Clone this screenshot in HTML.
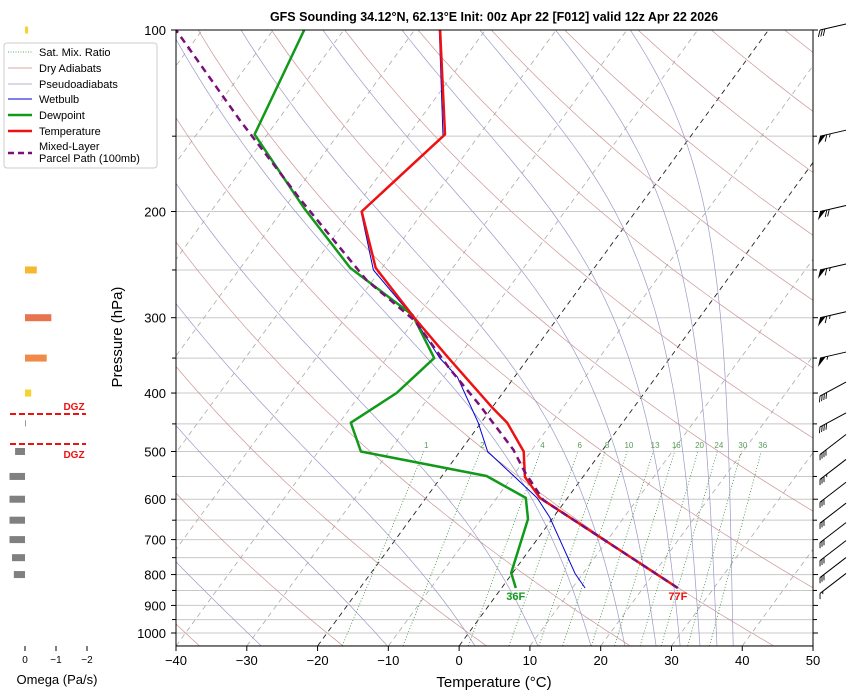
<!DOCTYPE html>
<html><head><meta charset="utf-8"><style>
body{margin:0;background:#fff;}
svg{display:block;font-family:"Liberation Sans","DejaVu Sans",sans-serif;}
</style></head><body>
<svg id="chart" width="852" height="696" viewBox="0 0 852 696" xmlns="http://www.w3.org/2000/svg">
<defs><clipPath id="plotclip"><rect x="176" y="30" width="637" height="616"/></clipPath></defs>
<rect width="852" height="696" fill="#fff"/>
<text x="494" y="21" text-anchor="middle" font-size="12.5" font-weight="bold">GFS Sounding 34.12°N, 62.13°E Init: 00z Apr 22 [F012] valid 12z Apr 22 2026</text>
<g id="bg" clip-path="url(#plotclip)"></g>
<g id="series" clip-path="url(#plotclip)"></g>
<g id="axes"></g>
<g id="omega"></g>
<g id="barbs"></g>
<text x="494" y="687" text-anchor="middle" font-size="15">Temperature (°C)</text>
<text x="122" y="337" text-anchor="middle" font-size="15" transform="rotate(-90 122 337)">Pressure (hPa)</text>
<text x="57" y="684" text-anchor="middle" font-size="13">Omega (Pa/s)</text>
<g>
<rect x="4" y="43" width="153" height="125" rx="3" fill="#fff" stroke="#ccc"/>
<g font-size="11" fill="#000">
<line x1="8" y1="52" x2="32" y2="52" stroke="#2a8a2a" stroke-dasharray="1,1.5" stroke-width="0.8"/><text x="39" y="56">Sat. Mix. Ratio</text>
<line x1="8" y1="68" x2="32" y2="68" stroke="#c98a8a" stroke-width="0.8"/><text x="39" y="72">Dry Adiabats</text>
<line x1="8" y1="84" x2="32" y2="84" stroke="#9a9ac8" stroke-width="0.8"/><text x="39" y="88">Pseudoadiabats</text>
<line x1="8" y1="99" x2="32" y2="99" stroke="#0000d0" stroke-width="1"/><text x="39" y="103">Wetbulb</text>
<line x1="8" y1="115" x2="32" y2="115" stroke="#11991a" stroke-width="2.5"/><text x="39" y="119">Dewpoint</text>
<line x1="8" y1="131" x2="32" y2="131" stroke="#ee1111" stroke-width="2.5"/><text x="39" y="135">Temperature</text>
<line x1="8" y1="153" x2="32" y2="153" stroke="#7a0f7a" stroke-width="2.5" stroke-dasharray="6,4"/><text x="39" y="150">Mixed-Layer</text><text x="39" y="162">Parcel Path (100mb)</text>
</g></g>
</svg>
<script>
// ---- data ----
const tempP = [842,597,551,500,448,422,348,300,248,200,149,100];
const tempT = [24.9,-3.9,-8.2,-11.0,-16.3,-20.1,-31.6,-40.3,-50.9,-58.7,-54.9,-66.4];
const dewP = [842,795,647,597,549,500,448,400,350,297,248,197,149,100];
const dewT = [2.0,-0.2,-3.4,-5.9,-13.7,-34.0,-38.4,-35.0,-33.3,-40.8,-54.5,-67.3,-81.8,-85.6];
const wbP = [842,797,643,597,500,448,376,350,300,250,200,150,100];
const wbT = [11.8,8.9,-0.5,-4.3,-16.1,-20.4,-28.1,-32.5,-40.4,-51.0,-58.8,-55.0,-66.5];
const parcelP = [842,602,541,497,419,364,303,260,191,141,100];
const parcelT = [24.9,-3.2,-8.7,-12.6,-22.0,-30.1,-40.0,-50.9,-68.6,-85.4,-103.7];
const omegaP = [100,150,250,300,350,400,450,500,550,600,650,700,750,800];
const omegaV = [-0.1,0.15,-0.38,-0.85,-0.7,-0.2,0.0,0.32,0.5,0.5,0.5,0.5,0.42,0.36];
const barbP = [100,150,200,250,300,350,400,450,500,550,600,650,700,750,800,850];
const barbSpd = [30,65,70,65,65,55,40,40,40,35,30,30,30,30,30,15];
const mixRatios = [1,2,4,6,8,10,13,16,20,24,30,36];
const moistT0 = [-50,-40,-28,-10.2,2.2,11.1,18.6,23.4,27.8,31.2,34,36.4,38.7];
const xTicks = [-40,-30,-20,-10,0,10,20,30,40,50];
const yTicks = [100,200,300,400,500,600,700,800,900,1000];
const yMinor = [150,250,350,450,550,650,750,850,950];
const surfTempLabel = "77F", surfDewLabel = "36F";

// ---- scales ----
const NS="http://www.w3.org/2000/svg";
function yP(p){return 30+603*Math.log10(p/100);}
function xT(T,p){return 176+(T+40)*7.078+(646-yP(p))*0.732;}
function mk(parent,tag,attrs){const e=document.createElementNS(NS,tag);for(const k in attrs)e.setAttribute(k,attrs[k]);parent.appendChild(e);return e;}
function path(Ps,Ts){return Ps.map((p,i)=>(i?'L':'M')+xT(Ts[i],p).toFixed(1)+','+yP(p).toFixed(1)).join('');}
const bg=document.getElementById('bg'),ser=document.getElementById('series'),ax=document.getElementById('axes');

// grid lines
for(let p=100;p<=1050;p+=50){const l=mk(bg,'line',{x1:176,x2:813,y1:yP(p),y2:yP(p),stroke:'#c8c8c8','stroke-width':1});

}
// isotherms
for(let T=-120;T<=50;T+=10){const bl=(T===0||T===-20);const l=mk(bg,'line',{x1:xT(T,1050),y1:yP(1050),x2:xT(T,100),y2:yP(100),stroke:bl?'#222':'#aaa','stroke-width':bl?0.9:0.8,'stroke-dasharray':'5,4'});

}
// dry adiabats
const levs=[];for(let p=1050;p>=100;p-=10)levs.push(p);
for(let th=-60;th<=220;th+=20){const K=th+273.15;const Ts=levs.map(p=>K*Math.pow(p/1000,0.2857)-273.15);
const l=mk(bg,'path',{d:path(levs,Ts),fill:'none',stroke:'#c98a8a','stroke-width':0.7,opacity:0.9});

}
// moist adiabats
function es(T){return 6.112*Math.exp(17.67*T/(T+243.5));}
function moist(T0){const out={P:[],T:[]};let T=T0+273.15,p=1050;out.P.push(p);out.T.push(T0);
 while(p>100){const dp=-5;const e=es(T-273.15);const rs=0.622*e/(p-e);
  const dTdp=(287*T+2.5e6*rs)/p/(1005+2.5e6*2.5e6*rs*0.622/(287*T*T));T+=dTdp*dp;p+=dp;out.P.push(p);out.T.push(T-273.15);}
 return out;}
moistT0.forEach(t=>{const m=moist(t);const l=mk(bg,'path',{d:path(m.P,m.T),fill:'none',stroke:'#9a9ac8','stroke-width':0.7});

});
// mixing ratio
function tdw(w,p){const e=w/1000*p/(0.622+w/1000);const l=Math.log(e/6.112);return 243.5*l/(17.67-l);}
mixRatios.forEach(w=>{const Ps=[1050,500];const Ts=Ps.map(p=>tdw(w,p));
const l=mk(bg,'path',{d:path(Ps,Ts),fill:'none',stroke:'#3a8a3a','stroke-width':0.8,'stroke-dasharray':'1,2'});


const t=mk(bg,'text',{x:xT(tdw(w,490),490),y:yP(490)+2,'font-size':8,fill:'#5a9a5a','text-anchor':'middle'});t.textContent=w;

});

// series
function line(Ps,Ts,st,w,dash,name){const l=mk(ser,'path',{d:path(Ps,Ts),fill:'none',stroke:st,'stroke-width':w,'stroke-linejoin':'round'});if(dash)l.setAttribute('stroke-dasharray',dash);

}
line(wbP,wbT,'#0000d8',1,null,'wetbulb-line');
line(dewP,dewT,'#11991a',2.5,null,'dewpoint-line');
line(tempP,tempT,'#ee1111',2.5,null,'temperature-line');
line(parcelP,parcelT,'#7a0f7a',2.5,'7,5','parcel-path-line');
let t1=mk(ser,'text',{x:xT(tempT[0],tempP[0]),y:yP(tempP[0])+12,'font-size':11,'font-weight':'bold',fill:'#ee1111','text-anchor':'middle'});t1.textContent=surfTempLabel;


let t2=mk(ser,'text',{x:xT(dewT[0],dewP[0]),y:yP(dewP[0])+12,'font-size':11,'font-weight':'bold',fill:'#11991a','text-anchor':'middle'});t2.textContent=surfDewLabel;



// axes
mk(ax,'rect',{x:176,y:30,width:637,height:616,fill:'none',stroke:'#000','stroke-width':1});
xTicks.forEach(T=>{const x=176+(T+40)*7.078;mk(ax,'line',{x1:x,x2:x,y1:646,y2:651,stroke:'#000'});
const t=mk(ax,'text',{x:x,y:665,'font-size':13,'text-anchor':'middle'});t.textContent=T<0?'\u2212'+(-T):T;

});
yTicks.forEach(p=>{const y=yP(p);mk(ax,'line',{x1:171,x2:176,y1:y,y2:y,stroke:'#000'});mk(ax,'line',{x1:813,x2:818,y1:y,y2:y,stroke:'#000'});
const t=mk(ax,'text',{x:166,y:y+5,'font-size':13,'text-anchor':'end'});t.textContent=p;

});
yMinor.forEach(p=>{const y=yP(p);mk(ax,'line',{x1:172,x2:176,y1:y,y2:y,stroke:'#000'});mk(ax,'line',{x1:813,x2:817,y1:y,y2:y,stroke:'#000'});});

// omega panel
const om=document.getElementById('omega');
function ocol(v){if(v>=0)return '#808080';const m=-v;if(m<0.25)return '#f5d430';if(m<0.5)return '#f5b82e';if(m<0.75)return '#ef8a48';return '#e8744f';}
omegaP.forEach((p,i)=>{const v=omegaV[i];const x0=25,x1=25-v*31;const y=yP(p);
const w=Math.max(Math.abs(x1-x0),1);
const r=mk(om,'rect',{x:Math.min(x0,x1),y:y-3.5,width:w,height:7,fill:ocol(v)});
if(v===0){r.setAttribute('height',6);r.setAttribute('fill','#999');}

});
[0,-1,-2].forEach(v=>{const x=25-v*31;mk(om,'line',{x1:x,x2:x,y1:646,y2:651,stroke:'#000'});
const t=mk(om,'text',{x:x,y:663,'font-size':10,'text-anchor':'middle'});t.textContent=v===0?'0':'\u2212'+(-v);

});
[[414,410],[444,458]].forEach(a=>{const l=mk(om,'line',{x1:10,x2:86,y1:a[0],y2:a[0],stroke:'#ee1111','stroke-width':2,'stroke-dasharray':'6,3'});


const t=mk(om,'text',{x:74,y:a[1],'font-size':10,'font-weight':'bold',fill:'#ee1111','text-anchor':'middle'});t.textContent='DGZ';

});

// wind barbs: staff from tail (left) to station (upper right); barbs at tail hanging down
const bb=document.getElementById('barbs');
barbP.forEach((p,i)=>{const y=yP(p);const g=mk(bb,'g',{});


const rise=p>=500?17:(p>=400?11:6);
const ax0=820,ay0=y+(p>=400?3:0),ax1=846,ay1=y-rise;
mk(g,'line',{x1:ax0,y1:ay0,x2:ax1,y2:ay1,stroke:'#000','stroke-width':1});
const L=Math.hypot(ax1-ax0,ay1-ay0),ux=(ax1-ax0)/L,uy=(ay1-ay0)/L;
const px=-uy*0.4-ux*0.3,py=ux*0.9;
let s=barbSpd[i];let d=0;const at=k=>[ax0+ux*k,ay0+uy*k];
while(s>=50){const a=at(d),b=at(d+6);mk(g,'polygon',{points:`${a[0]},${a[1]} ${b[0]},${b[1]} ${a[0]+px*10},${a[1]+py*10}`,fill:'#000'});s-=50;d+=7;}
while(s>=10){const a=at(d);mk(g,'line',{x1:a[0],y1:a[1],x2:a[0]+px*8,y2:a[1]+py*8,stroke:'#000','stroke-width':0.9});s-=10;d+=2.5;}
if(s>=5){const a=at(d+1);mk(g,'line',{x1:a[0],y1:a[1],x2:a[0]+px*4,y2:a[1]+py*4,stroke:'#000','stroke-width':0.9});}
});
</script>
</body></html>
